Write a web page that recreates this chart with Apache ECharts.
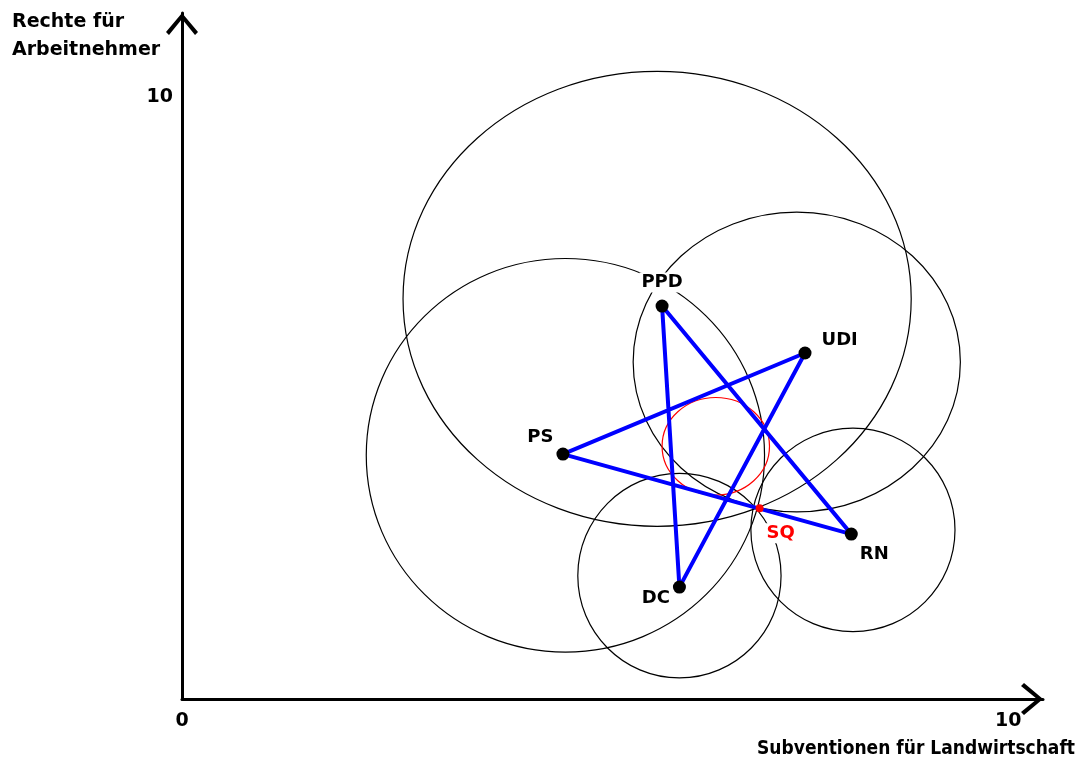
<!DOCTYPE html>
<html>
<head>
<meta charset="utf-8">
<title>Indifferenzkurven</title>
<script src="https://cdn.jsdelivr.net/npm/echarts@6/dist/echarts.min.js"></script>
<style>
  html, body { margin: 0; padding: 0; background: #fff; }
  #chart { width: 1080px; height: 764px; }
</style>
</head>
<body>
<div id="chart"></div>
<script>
// party ideal points
const parties = ['PPD', 'UDI', 'PS', 'RN', 'DC'];
const partyX = [5.81, 7.54, 4.61, 8.10, 6.02];
const partyY = [6.53, 5.75, 4.07, 2.74, 1.86];

// status quo
const sqName = 'SQ';
const sqX = 6.99;
const sqY = 3.17;

// indifference circles (center x, center y, radius x, radius y)
const circleCx = [5.75, 7.44, 4.64, 6.02, 8.12];
const circleCy = [6.65, 5.60, 4.05, 2.05, 2.81];
const circleRx = [3.075, 1.98, 2.41, 1.23, 1.235];
const circleRy = [3.78, 2.49, 3.27, 1.70, 1.69];

// red circle
const redCx = [6.46];
const redCy = [4.20];
const redRx = [0.65];
const redRy = [0.81];

// order of the star lines
const starOrder = ['PPD', 'DC', 'UDI', 'PS', 'RN', 'PPD'];

const xTicks = [0, 10];
const yTicks = [10];

// label placement per party
const labelPlace = {
  PPD: { position: 'top', distance: 7, offset: [0, 0] },
  UDI: { position: 'right', distance: 8, offset: [0, -13] },
  PS: { position: 'left', distance: 1, offset: [0, -17] },
  RN: { position: 'right', distance: 0, offset: [0, 20] },
  DC: { position: 'left', distance: 1, offset: [0, 11] }
};

const FONT = '"DejaVu Sans", sans-serif';
// filled chevron, tip pointing up (ECharts rotates it along the axis)
const chevron = 'path://M16,0 L32,19 L29,22 L16,6 L3,22 L0,19 Z';

function partyIndex(name) {
  return parties.indexOf(name);
}

function renderEllipse(color) {
  return function (params, api) {
    const c = api.coord([api.value(0), api.value(1)]);
    const s = api.size([api.value(2), api.value(3)]);
    return {
      type: 'ellipse',
      shape: { cx: c[0], cy: c[1], rx: s[0], ry: s[1] },
      style: { fill: 'none', stroke: color, lineWidth: 1.2 }
    };
  };
}

const axisCommon = {
  type: 'value',
  min: 0,
  splitLine: { show: false },
  axisTick: { show: false },
  axisLine: {
    show: true,
    symbol: ['none', chevron],
    symbolSize: [32, 22],
    symbolOffset: [0, -11],
    lineStyle: { color: '#000', width: 3 }
  }
};

const tickLabel = {
  color: '#000',
  fontFamily: FONT,
  fontSize: 19,
  fontWeight: 'bold'
};

const chart = echarts.init(document.getElementById('chart'));

chart.setOption({
  backgroundColor: '#fff',
  animation: false,
  title: [
    {
      text: 'Rechte für\nArbeitnehmer',
      left: 12,
      top: 8,
      padding: 0,
      textStyle: { fontFamily: FONT, fontSize: 19, fontWeight: 'bold', color: '#000', lineHeight: 28 }
    },
    {
      text: 'Subventionen für Landwirtschaft',
      right: 5,
      top: 740,
      padding: 0,
      textStyle: { fontFamily: '"DejaVu Sans Condensed", "DejaVu Sans", sans-serif', fontSize: 19, fontWeight: 'bold', color: '#000' }
    }
  ],
  grid: { left: 182, right: 37, top: 13, bottom: 65 },
  xAxis: Object.assign({}, axisCommon, {
    max: 10.42,
    axisLabel: Object.assign({ customValues: xTicks, margin: 13 }, tickLabel)
  }),
  yAxis: Object.assign({}, axisCommon, {
    max: 11.4,
    axisLabel: Object.assign({ customValues: yTicks, margin: 9 }, tickLabel)
  }),
  series: [
    {
      name: 'Kreise',
      type: 'custom',
      z: 1,
      renderItem: renderEllipse('#000'),
      encode: { x: 0, y: 1 },
      data: circleCx.map((cx, i) => [cx, circleCy[i], circleRx[i], circleRy[i]])
    },
    {
      name: 'Kreis SQ',
      type: 'custom',
      z: 1,
      renderItem: renderEllipse('#ff0000'),
      encode: { x: 0, y: 1 },
      data: redCx.map((cx, i) => [cx, redCy[i], redRx[i], redRy[i]])
    },
    {
      name: 'Stern',
      type: 'line',
      z: 2,
      symbol: 'none',
      lineStyle: { color: '#0000ff', width: 4 },
      data: starOrder.map(n => [partyX[partyIndex(n)], partyY[partyIndex(n)]])
    },
    {
      name: 'Parteien',
      type: 'scatter',
      z: 3,
      symbol: 'circle',
      symbolSize: 13,
      itemStyle: { color: '#000', opacity: 1 },
      data: parties.map((p, i) => ({
        name: p,
        value: [partyX[i], partyY[i]],
        label: labelPlace[p]
      })),
      label: {
        show: true,
        formatter: '{b}',
        color: '#000',
        fontFamily: FONT,
        fontSize: 18,
        fontWeight: 'bold',
        backgroundColor: '#fff',
        padding: [1, 2]
      }
    },
    {
      name: 'Status quo',
      type: 'scatter',
      z: 4,
      symbol: 'circle',
      symbolSize: 8,
      itemStyle: { color: '#ff0000', opacity: 1 },
      data: [{ name: sqName, value: [sqX, sqY] }],
      label: {
        show: true,
        formatter: '{b}',
        position: 'right',
        distance: 1,
        offset: [0, 25],
        color: '#ff0000',
        fontFamily: FONT,
        fontSize: 18,
        fontWeight: 'bold',
        backgroundColor: '#fff',
        padding: [1, 2]
      }
    }
  ]
});
</script>
</body>
</html>
